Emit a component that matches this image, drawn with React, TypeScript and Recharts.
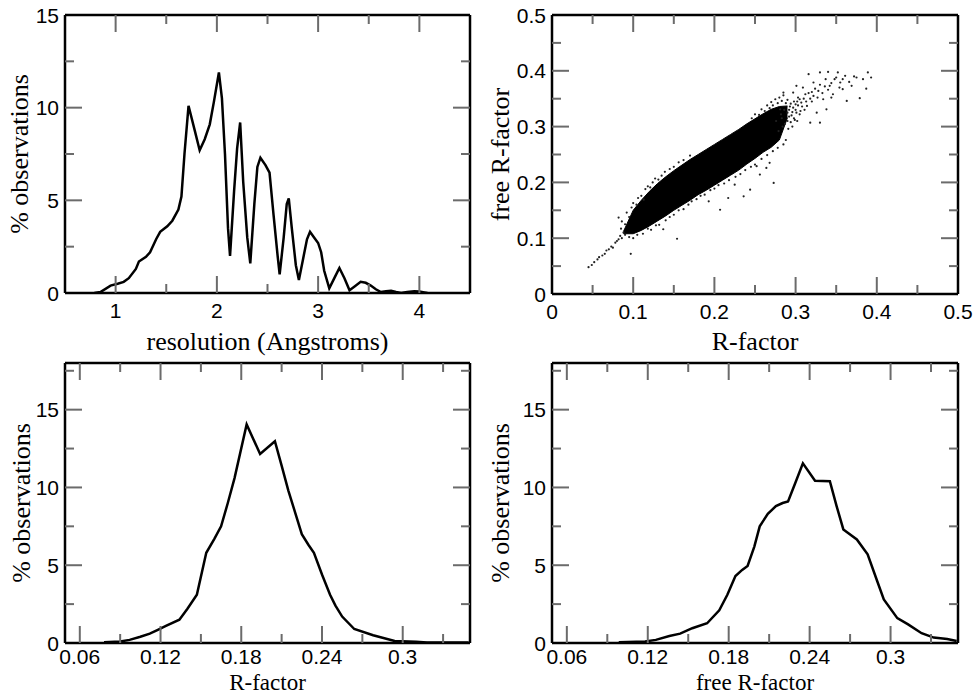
import { LineChart, Line, ComposedChart, Area, Scatter, XAxis, YAxis } from 'recharts';

// ---------- data ----------

// resolution histogram (top left)
const RES_X = [0.79, 0.85, 0.95, 1.02, 1.08, 1.13, 1.2, 1.23, 1.3, 1.34, 1.4, 1.44, 1.51, 1.56, 1.62, 1.65, 1.68, 1.72, 1.78, 1.83, 1.88, 1.93, 1.97, 2.02, 2.05, 2.08, 2.11, 2.13, 2.17, 2.2, 2.23, 2.26, 2.3, 2.33, 2.37, 2.4, 2.43, 2.48, 2.52, 2.56, 2.6, 2.62, 2.66, 2.69, 2.71, 2.74, 2.78, 2.81, 2.85, 2.89, 2.92, 2.96, 3.0, 3.03, 3.06, 3.11, 3.16, 3.21, 3.26, 3.31, 3.36, 3.42, 3.47, 3.52, 3.57, 3.62, 3.67, 3.72, 3.77, 3.82, 3.88, 3.95, 4.0, 4.05, 4.08];
const RES_PCT = [0, 0.05, 0.4, 0.5, 0.6, 0.8, 1.3, 1.7, 1.95, 2.2, 2.9, 3.3, 3.6, 3.9, 4.5, 5.2, 7.5, 10.1, 8.8, 7.7, 8.3, 9.1, 10.3, 11.9, 10.5, 7.5, 3.5, 2.0, 5.5, 7.8, 9.2, 6.0, 3.0, 1.6, 4.8, 6.8, 7.3, 6.9, 6.5, 4.2, 2.0, 1.0, 3.0, 4.8, 5.1, 3.5, 1.5, 0.7, 1.8, 2.9, 3.3, 3.0, 2.7, 2.2, 1.2, 0.25, 0.8, 1.35, 0.8, 0.15, 0.35, 0.6, 0.55, 0.4, 0.2, 0.05, 0.1, 0.12, 0.05, 0, 0.05, 0.1, 0.08, 0.03, 0];

// R-factor histogram (bottom left)
const RF_X = [0.078, 0.09, 0.097, 0.105, 0.112, 0.118, 0.124, 0.134, 0.14, 0.147, 0.154, 0.16, 0.165, 0.17, 0.175, 0.184, 0.194, 0.205, 0.21, 0.215, 0.22, 0.225, 0.23, 0.234, 0.24, 0.246, 0.25, 0.255, 0.264, 0.278, 0.294, 0.31, 0.318, 0.349];
const RF_PCT = [0.05, 0.1, 0.2, 0.4, 0.6, 0.85, 1.1, 1.5, 2.2, 3.1, 5.8, 6.7, 7.5, 9.0, 10.6, 14.05, 12.15, 12.97, 11.4, 9.8, 8.4, 7.0, 6.3, 5.8, 4.4, 3.1, 2.4, 1.7, 0.9, 0.5, 0.13, 0.08, 0.04, 0.04];

// free R-factor histogram (bottom right)
const FREE_X = [0.0985, 0.118, 0.126, 0.136, 0.144, 0.153, 0.164, 0.173, 0.179, 0.185, 0.19, 0.194, 0.199, 0.203, 0.209, 0.215, 0.22, 0.224, 0.229, 0.235, 0.244, 0.255, 0.26, 0.265, 0.275, 0.283, 0.29, 0.295, 0.305, 0.313, 0.323, 0.332, 0.342, 0.349];
const FREE_PCT = [0.05, 0.1, 0.2, 0.45, 0.6, 0.95, 1.27, 2.1, 3.1, 4.3, 4.7, 4.95, 6.2, 7.5, 8.3, 8.8, 9.0, 9.1, 10.2, 11.55, 10.43, 10.4, 8.8, 7.3, 6.66, 5.7, 4.0, 2.8, 1.6, 1.2, 0.63, 0.35, 0.25, 0.13];

// scatter (top right): envelope of the solid core, plus the sparse points around it
const CORE_X = [0.088, 0.1, 0.11, 0.12, 0.13, 0.14, 0.15, 0.16, 0.17, 0.18, 0.19, 0.2, 0.21, 0.22, 0.23, 0.24, 0.25, 0.26, 0.27, 0.28, 0.29];
const CORE_LOW = [0.108, 0.108, 0.114, 0.122, 0.131, 0.14, 0.15, 0.159, 0.168, 0.178, 0.186, 0.195, 0.204, 0.213, 0.222, 0.233, 0.243, 0.254, 0.263, 0.276, 0.316];
const CORE_HIGH = [0.112, 0.15, 0.168, 0.184, 0.198, 0.21, 0.221, 0.231, 0.241, 0.25, 0.259, 0.268, 0.277, 0.286, 0.295, 0.305, 0.314, 0.323, 0.331, 0.336, 0.337];
const SPARSE = [
  [0.045, 0.048], [0.049, 0.052], [0.052, 0.057], [0.056, 0.062], [0.058, 0.066], [0.062, 0.069], [0.065, 0.072], [0.067, 0.078],
  [0.07, 0.08], [0.073, 0.085], [0.075, 0.083], [0.078, 0.092], [0.08, 0.095], [0.082, 0.098], [0.084, 0.104], [0.086, 0.1],
  [0.088, 0.11], [0.085, 0.117], [0.09, 0.106], [0.097, 0.072],
  [0.082, 0.137], [0.086, 0.13], [0.09, 0.125], [0.092, 0.146], [0.095, 0.138], [0.098, 0.155], [0.1, 0.163], [0.104, 0.16],
  [0.106, 0.172], [0.11, 0.176], [0.113, 0.169], [0.115, 0.188], [0.118, 0.193], [0.121, 0.191], [0.124, 0.2], [0.127, 0.207],
  [0.131, 0.205], [0.135, 0.212], [0.139, 0.219], [0.145, 0.224], [0.15, 0.228], [0.156, 0.236], [0.162, 0.24], [0.17, 0.248],
  [0.095, 0.102], [0.1, 0.1], [0.105, 0.106], [0.112, 0.108], [0.118, 0.117], [0.122, 0.115], [0.128, 0.123], [0.132, 0.124],
  [0.137, 0.116], [0.14, 0.132], [0.145, 0.138], [0.15, 0.142], [0.154, 0.099], [0.156, 0.15], [0.162, 0.152], [0.168, 0.16],
  [0.172, 0.166], [0.178, 0.17], [0.183, 0.176], [0.188, 0.178], [0.193, 0.166], [0.195, 0.186], [0.2, 0.189], [0.207, 0.151],
  [0.205, 0.195], [0.212, 0.198], [0.217, 0.172], [0.218, 0.204], [0.225, 0.196], [0.226, 0.21], [0.232, 0.215], [0.236, 0.175],
  [0.238, 0.222], [0.244, 0.187], [0.245, 0.228], [0.25, 0.232], [0.252, 0.229], [0.256, 0.214], [0.258, 0.242], [0.264, 0.226],
  [0.265, 0.249], [0.268, 0.235], [0.273, 0.199], [0.272, 0.256], [0.278, 0.262], [0.285, 0.268], [0.288, 0.276],
  [0.25, 0.322], [0.258, 0.331], [0.265, 0.338], [0.27, 0.344], [0.275, 0.349], [0.28, 0.352], [0.285, 0.356], [0.29, 0.348],
  [0.292, 0.33], [0.295, 0.32], [0.297, 0.361], [0.3, 0.34], [0.301, 0.325], [0.303, 0.352], [0.305, 0.349], [0.308, 0.336],
  [0.309, 0.37], [0.312, 0.358], [0.314, 0.337], [0.316, 0.394], [0.318, 0.307], [0.32, 0.345], [0.322, 0.379], [0.322, 0.355],
  [0.326, 0.325], [0.328, 0.364], [0.33, 0.397], [0.33, 0.307], [0.334, 0.349], [0.336, 0.372], [0.338, 0.331], [0.34, 0.398],
  [0.342, 0.373], [0.344, 0.352], [0.346, 0.358], [0.348, 0.385], [0.352, 0.397], [0.355, 0.379], [0.358, 0.367], [0.361, 0.391],
  [0.363, 0.346], [0.366, 0.38], [0.369, 0.373], [0.372, 0.39], [0.375, 0.388], [0.379, 0.351], [0.383, 0.385], [0.387, 0.368],
  [0.389, 0.397], [0.393, 0.388], [0.296, 0.3], [0.29, 0.31], [0.281, 0.331], [0.285, 0.361], [0.301, 0.373], [0.284, 0.3],
  [0.292, 0.318], [0.294, 0.341], [0.297, 0.334], [0.299, 0.312], [0.302, 0.345], [0.306, 0.328], [0.288, 0.342], [0.283, 0.346],
  [0.282, 0.322], [0.286, 0.33], [0.29, 0.325], [0.293, 0.336], [0.296, 0.326], [0.298, 0.345], [0.3, 0.33], [0.303, 0.338],
  [0.305, 0.322], [0.307, 0.343], [0.31, 0.35], [0.311, 0.33], [0.313, 0.345], [0.316, 0.36], [0.318, 0.35], [0.32, 0.362],
  [0.324, 0.368], [0.327, 0.352], [0.33, 0.375], [0.333, 0.36], [0.337, 0.385], [0.34, 0.366], [0.344, 0.378], [0.35, 0.388],
  [0.354, 0.37], [0.358, 0.385], [0.276, 0.31], [0.279, 0.292], [0.283, 0.315], [0.287, 0.305], [0.291, 0.296], [0.294, 0.308],
  [0.298, 0.315], [0.302, 0.31], [0.278, 0.342], [0.272, 0.338], [0.268, 0.333], [0.262, 0.328], [0.255, 0.321], [0.246, 0.315],
];

// ticks
const RES_TICKS = [0.5, 1, 1.5, 2, 2.5, 3, 3.5, 4, 4.5];
const RES_MAJOR = [1, 2, 3, 4];
const PCT15_TICKS = [0, 2.5, 5, 7.5, 10, 12.5, 15];
const PCT18_TICKS = [0, 2.5, 5, 7.5, 10, 12.5, 15, 17.5];
const PCT_MAJOR = [0, 5, 10, 15];
const R_TICKS = [0, 0.05, 0.1, 0.15, 0.2, 0.25, 0.3, 0.35, 0.4, 0.45, 0.5];
const R_MAJOR = [0, 0.1, 0.2, 0.3, 0.4, 0.5];
const HIST_TICKS = [0.06, 0.09, 0.12, 0.15, 0.18, 0.21, 0.24, 0.27, 0.3, 0.33];
const HIST_MAJOR = [0.06, 0.12, 0.18, 0.24, 0.3];

const resData = RES_X.map((x, i) => ({ x, y: RES_PCT[i] }));
const rfData = RF_X.map((x, i) => ({ x, y: RF_PCT[i] }));
const freeData = FREE_X.map((x, i) => ({ x, y: FREE_PCT[i] }));
const coreData = CORE_X.map((x, i) => ({ x, band: [CORE_LOW[i], CORE_HIGH[i]] }));
const sparseData = SPARSE.map(([x, y]) => ({ x, y }));

// ---------- styling ----------
const TICK_FONT = { fontFamily: '"Liberation Sans", Arial, Helvetica, sans-serif', fontSize: 21, fill: '#000' };
const TITLE_FONT = { fontFamily: '"Liberation Serif", "Times New Roman", serif', fontSize: 26, fill: '#000' };
const TICK_GRAY = '#6b6b6b';
const MAJOR_LEN = 17;
const MINOR_LEN = 9;
const FRAME_LINE = { stroke: '#000', strokeWidth: 2.5 };

const near = (a: number, b: number) => Math.abs(a - b) < 1e-9;

function makeTick(side: string, majors: number[], domain: number[], labelDy = 25) {
  return (p: any) => {
    const v = p.payload.value;
    const major = majors.some((m) => near(m, v));
    const edge = near(v, domain[0]) || near(v, domain[1]);
    const len = major ? MAJOR_LEN : MINOR_LEN;
    const { x, y } = p;
    let line = null;
    let label = null;
    if (side === 'bottom') {
      if (!edge) line = <line x1={x} y1={y} x2={x} y2={y - len} stroke={TICK_GRAY} strokeWidth={2} />;
      if (major) label = <text x={x} y={y + labelDy} textAnchor="middle" style={TICK_FONT}>{String(v)}</text>;
    } else if (side === 'top') {
      if (!edge) line = <line x1={x} y1={y} x2={x} y2={y + len} stroke={TICK_GRAY} strokeWidth={2} />;
    } else if (side === 'left') {
      if (!edge) line = <line x1={x} y1={y} x2={x + len} y2={y} stroke={TICK_GRAY} strokeWidth={2} />;
      if (major) label = <text x={x - 6} y={y} dy="0.36em" textAnchor="end" style={TICK_FONT}>{String(v)}</text>;
    } else {
      if (!edge) line = <line x1={x} y1={y} x2={x - len} y2={y} stroke={TICK_GRAY} strokeWidth={2} />;
    }
    return <g>{line}{label}</g>;
  };
}

function xTitle(text: string, dy: number, size: number) {
  return (p: any) => {
    const vb = p.viewBox;
    return <text x={vb.x + vb.width / 2} y={vb.y + dy} textAnchor="middle" style={{ ...TITLE_FONT, fontSize: size }}>{text}</text>;
  };
}

function yTitle(text: string, dx: number) {
  return (p: any) => {
    const vb = p.viewBox;
    const cx = vb.x + vb.width - dx;
    const cy = vb.y + vb.height / 2;
    return <text x={cx} y={cy} transform={`rotate(-90, ${cx}, ${cy})`} textAnchor="middle" style={TITLE_FONT}>{text}</text>;
  };
}

interface FrameCfg {
  xDomain: number[]; xTicks: number[]; xMajor: number[];
  yDomain: number[]; yTicks: number[]; yMajor: number[];
  xLabel: string; xLabelDy: number; xLabelSize: number; tickDy: number;
  yLabel: string; yLabelDx: number;
}

// four 1px axes make the closed frame with inward ticks (an axis of size 0 is not drawn)
function frameAxes(c: FrameCfg) {
  return [
    <XAxis key="xb" dataKey="x" type="number" domain={c.xDomain} ticks={c.xTicks} interval={0} allowDataOverflow height={1} tickSize={0} tickMargin={0} axisLine={FRAME_LINE} tickLine={false} tick={makeTick('bottom', c.xMajor, c.xDomain, c.tickDy)} label={xTitle(c.xLabel, c.xLabelDy, c.xLabelSize)} />,
    <XAxis key="xt" xAxisId="top" orientation="top" dataKey="x" type="number" domain={c.xDomain} ticks={c.xTicks} interval={0} allowDataOverflow height={1} tickSize={0} tickMargin={0} axisLine={FRAME_LINE} tickLine={false} tick={makeTick('top', c.xMajor, c.xDomain)} />,
    <YAxis key="yl" type="number" domain={c.yDomain} ticks={c.yTicks} interval={0} allowDataOverflow width={1} tickSize={0} tickMargin={0} axisLine={FRAME_LINE} tickLine={false} tick={makeTick('left', c.yMajor, c.yDomain)} label={yTitle(c.yLabel, c.yLabelDx)} />,
    <YAxis key="yr" yAxisId="right" orientation="right" type="number" domain={c.yDomain} ticks={c.yTicks} interval={0} allowDataOverflow width={1} tickSize={0} tickMargin={0} axisLine={FRAME_LINE} tickLine={false} tick={makeTick('right', c.yMajor, c.yDomain)} />,
  ];
}

const dot = (p: any) => <circle cx={p.cx} cy={p.cy} r={1.1} fill="#222" />;

export default function App() {
  return (
    <div style={{ position: 'absolute', left: 0, top: 0, width: 973, height: 695, background: '#fff', overflow: 'hidden' }}>
      {/* top left: resolution */}
      <div style={{ position: 'absolute', left: 0, top: 0 }}>
        <LineChart width={486} height={362} data={resData} margin={{ top: 14, right: 15, bottom: 68, left: 64 }}>
          {frameAxes({
            xDomain: [0.5, 4.5], xTicks: RES_TICKS, xMajor: RES_MAJOR,
            yDomain: [0, 15], yTicks: PCT15_TICKS, yMajor: PCT_MAJOR,
            xLabel: 'resolution (Angstroms)', xLabelDy: 57, xLabelSize: 26, tickDy: 25,
            yLabel: '% observations', yLabelDx: 37,
          })}
          <Line type="linear" dataKey="y" stroke="#000" strokeWidth={2.5} dot={false} isAnimationActive={false} />
        </LineChart>
      </div>

      {/* top right: scatter */}
      <div style={{ position: 'absolute', left: 486, top: 0 }}>
        <ComposedChart width={487} height={362} data={coreData} margin={{ top: 14, right: 14, bottom: 67, left: 65 }}>
          {frameAxes({
            xDomain: [0, 0.5], xTicks: R_TICKS, xMajor: R_MAJOR,
            yDomain: [0, 0.5], yTicks: R_TICKS, yMajor: R_MAJOR,
            xLabel: 'R-factor', xLabelDy: 56, xLabelSize: 26, tickDy: 25,
            yLabel: 'free R-factor', yLabelDx: 43,
          })}
          <Area type="linear" dataKey="band" stroke="#000" strokeWidth={1} fill="#000" fillOpacity={1} isAnimationActive={false} />
          <Scatter data={sparseData} dataKey="y" shape={dot} isAnimationActive={false} />
        </ComposedChart>
      </div>

      {/* bottom left: R-factor */}
      <div style={{ position: 'absolute', left: 0, top: 330 }}>
        <LineChart width={486} height={365} data={rfData} margin={{ top: 32, right: 15, bottom: 51, left: 64 }}>
          {frameAxes({
            xDomain: [0.049, 0.35], xTicks: HIST_TICKS, xMajor: HIST_MAJOR,
            yDomain: [0, 18], yTicks: PCT18_TICKS, yMajor: PCT_MAJOR,
            xLabel: 'R-factor', xLabelDy: 46.8, xLabelSize: 23, tickDy: 21,
            yLabel: '% observations', yLabelDx: 35,
          })}
          <Line type="linear" dataKey="y" stroke="#000" strokeWidth={2.5} dot={false} isAnimationActive={false} />
        </LineChart>
      </div>

      {/* bottom right: free R-factor */}
      <div style={{ position: 'absolute', left: 486, top: 330 }}>
        <LineChart width={487} height={365} data={freeData} margin={{ top: 32, right: 14, bottom: 51, left: 65 }}>
          {frameAxes({
            xDomain: [0.049, 0.35], xTicks: HIST_TICKS, xMajor: HIST_MAJOR,
            yDomain: [0, 18], yTicks: PCT18_TICKS, yMajor: PCT_MAJOR,
            xLabel: 'free R-factor', xLabelDy: 46.8, xLabelSize: 23, tickDy: 21,
            yLabel: '% observations', yLabelDx: 43,
          })}
          <Line type="linear" dataKey="y" stroke="#000" strokeWidth={2.5} dot={false} isAnimationActive={false} />
        </LineChart>
      </div>
    </div>
  );
}
